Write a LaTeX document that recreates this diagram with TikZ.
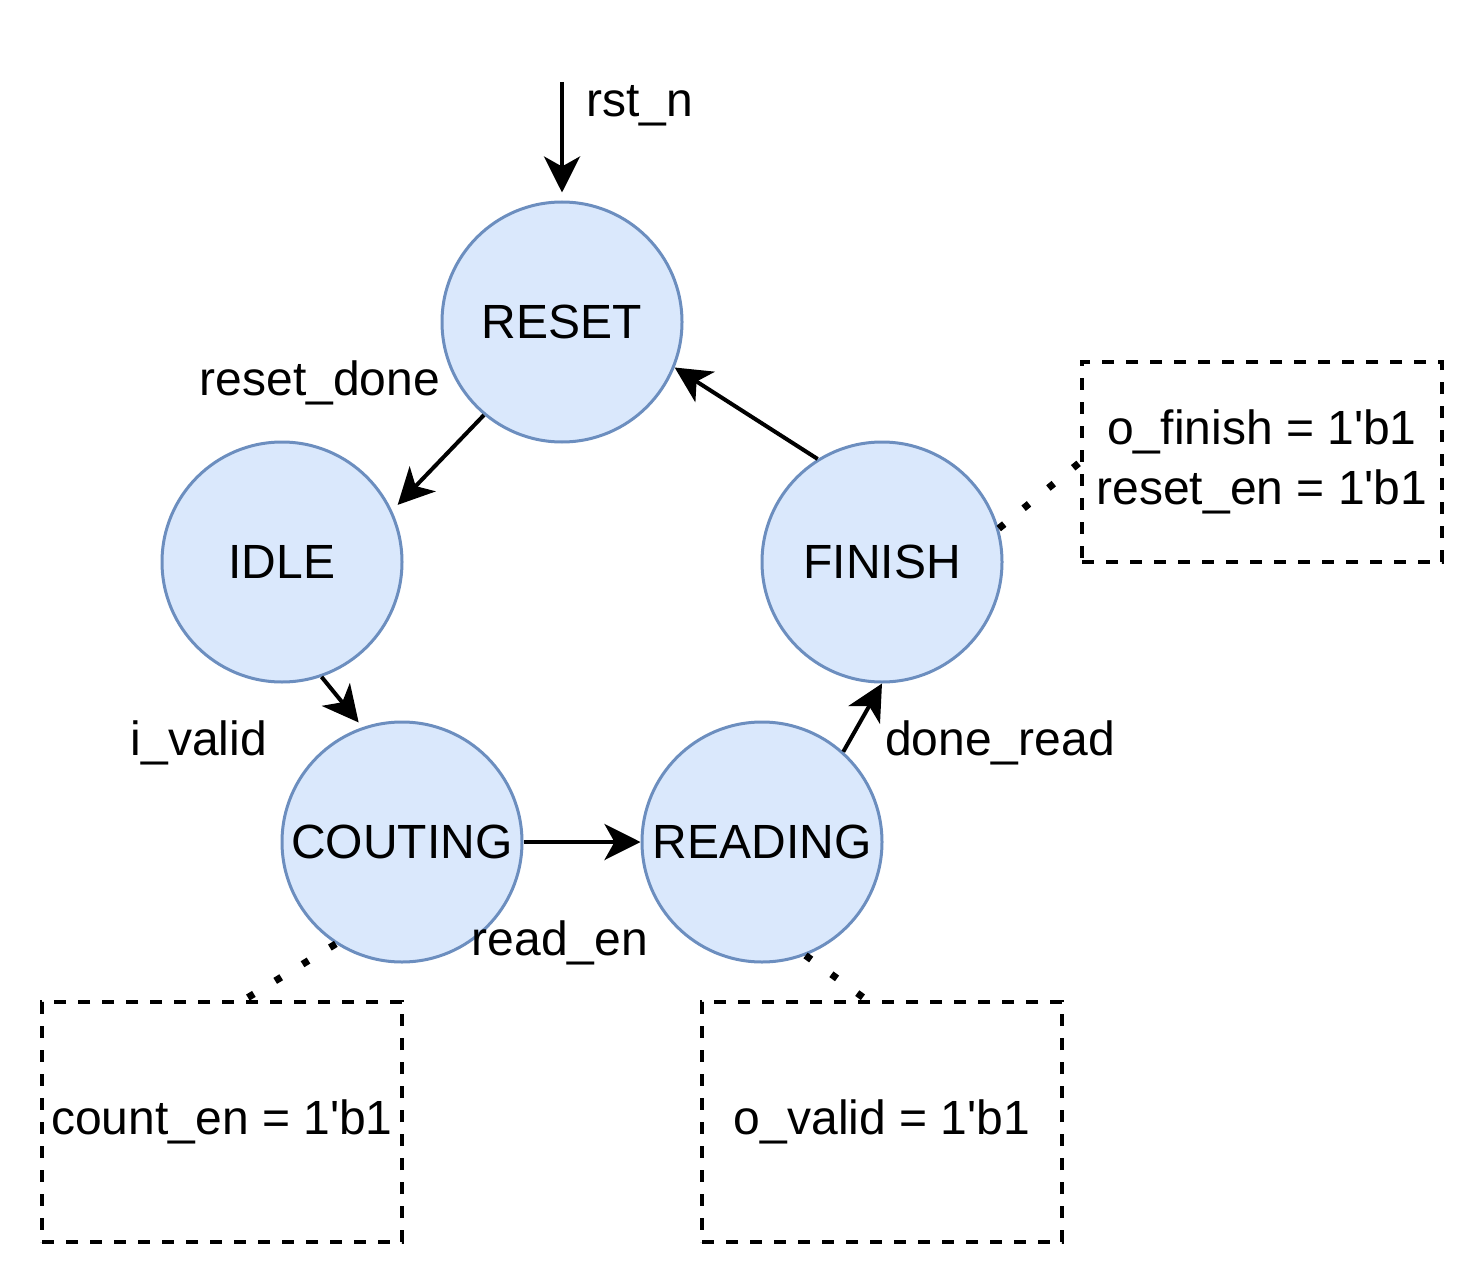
\documentclass[tikz,border=0pt]{standalone}
\usepackage{fontspec}
\setmainfont{Liberation Sans}
\usetikzlibrary{arrows.meta}
\definecolor{statefill}{HTML}{DAE8FC}
\definecolor{stateline}{HTML}{6C8EBF}
\tikzstyle{every node}=[font=\fontsize{24}{30}\selectfont]
\tikzstyle{state}=[circle, draw=stateline, fill=statefill, minimum size=120pt, inner sep=0pt]
\tikzstyle{note}=[draw, line width=1.75pt, dash pattern=on 6pt off 6pt, minimum width=180pt, minimum height=120pt, inner sep=0pt, align=center]
\tikzstyle{lbl}=[anchor=base]
\tikzstyle{trans}=[line width=2pt, -{Stealth[length=18pt, width=18pt, inset=5pt]}]
\tikzstyle{link}=[line width=3.5pt, dash pattern=on 3.5pt off 12.5pt]

\begin{document}
\begin{tikzpicture}[x=0.5pt, y=-0.5pt, line width=1.5pt]
\useasboundingbox (0,0) rectangle (1484,1284);
% States
    \node[state] (reset) at (562,322) {RESET};
    \node[state] (idle) at (282,562) {IDLE};
    \node[state] (couting) at (402,842) {COUTING};
    \node[state] (reading) at (762,842) {READING};
    \node[state] (finish) at (882,562) {FINISH};
% Outputs
    \node[note, minimum height=100pt] (finbox) at (1262,462) {o\_finish = 1\textquotesingle b1\\reset\_en = 1\textquotesingle b1};
    \node[note] (cntbox) at (222,1122) {count\_en = 1\textquotesingle b1};
    \node[note] (valbox) at (882,1122) {o\_valid = 1\textquotesingle b1};
% Transitions
    \coordinate (rstin) at (562,82);
    \draw[trans, shorten >=4pt] (rstin) -- (reset);
    \draw[trans, shorten >=4pt] (reset.230) -- (idle.25);
    \draw[trans, shorten >=3pt] (idle.289) -- (couting.109);
    \draw[trans] (couting) -- (reading);
    \draw[trans] (reading.48) -- (finish.south);
    \draw[trans] (finish.122) -- (reset.338);
% Conditions
    \node[lbl] (rstlbl) at (640,117) {rst\_n};
    \node[lbl] (donelbl) at (320,395) {reset\_done};
    \node[lbl] (validlbl) at (199,755) {i\_valid};
    \node[lbl] (readlbl) at (560,955) {read\_en};
    \node[lbl] (finlbl) at (1000,755) {done\_read};
% Output links
    \draw[link] (finish.16) -- (finbox.west);
    \draw[link] (couting.237) -- (cntbox.80);
    \draw[link] (reading.291) -- (valbox.97);
\end{tikzpicture}
\end{document}
